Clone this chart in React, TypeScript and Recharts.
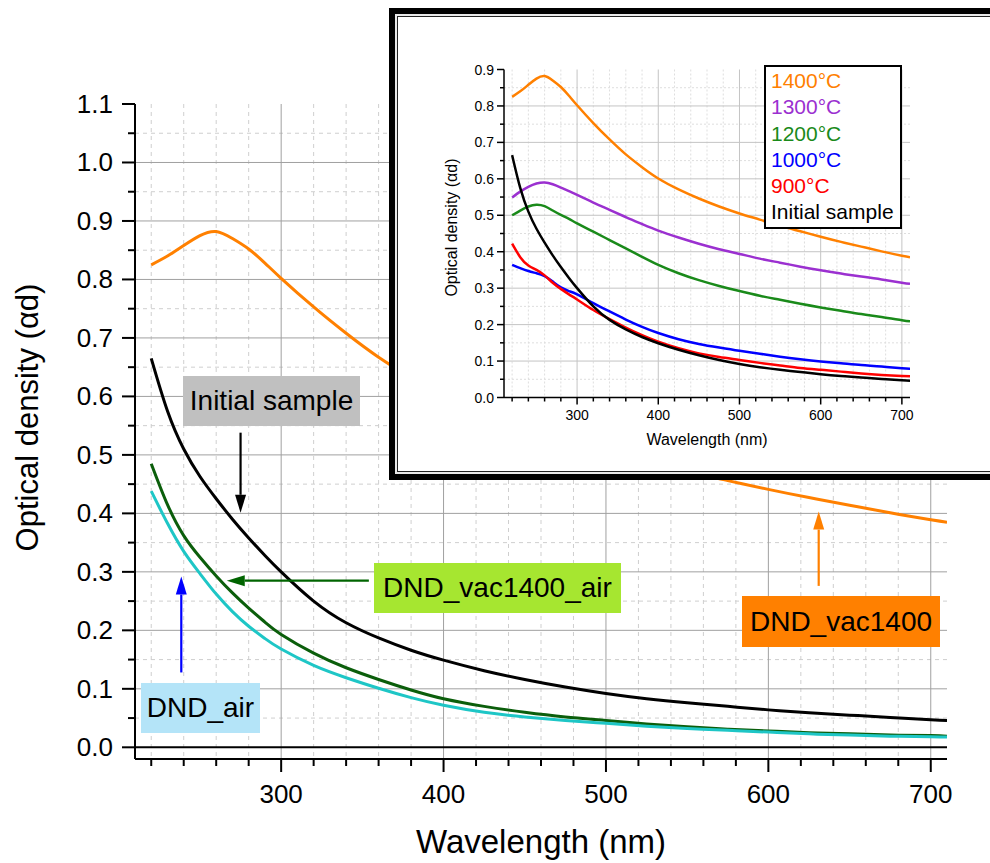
import React from "react";
import {
  LineChart,
  Line,
  XAxis,
  YAxis,
  CartesianGrid,
  ReferenceLine,
  Legend,
} from "recharts";

// Values (nm vs optical density)
const wavelength = [220, 230, 240, 250, 260, 270, 280, 290, 300, 320, 340, 360, 380, 400, 425, 450, 475, 500, 525, 550, 575, 600, 625, 650, 675, 700, 710];

const initialSample = [0.665, 0.575, 0.51, 0.463, 0.425, 0.39, 0.358, 0.328, 0.3, 0.25, 0.213, 0.187, 0.166, 0.149, 0.131, 0.116, 0.103, 0.092, 0.083, 0.076, 0.07, 0.064, 0.059, 0.055, 0.051, 0.047, 0.046];
const dndVac1400 = [0.825, 0.84, 0.858, 0.875, 0.882, 0.87, 0.852, 0.828, 0.802, 0.753, 0.708, 0.667, 0.632, 0.601, 0.571, 0.546, 0.524, 0.505, 0.488, 0.471, 0.456, 0.441, 0.427, 0.414, 0.401, 0.389, 0.385];
const dndVac1400Air = [0.485, 0.415, 0.362, 0.325, 0.293, 0.264, 0.238, 0.214, 0.193, 0.161, 0.136, 0.116, 0.098, 0.083, 0.07, 0.06, 0.052, 0.046, 0.04, 0.035, 0.031, 0.028, 0.025, 0.023, 0.021, 0.02, 0.019];
const dndAir = [0.438, 0.383, 0.335, 0.297, 0.262, 0.232, 0.207, 0.186, 0.168, 0.14, 0.119, 0.101, 0.085, 0.072, 0.06, 0.052, 0.046, 0.041, 0.036, 0.032, 0.029, 0.026, 0.023, 0.021, 0.019, 0.018, 0.0175];
const t1300 = [0.549, 0.565, 0.578, 0.587, 0.59, 0.585, 0.576, 0.566, 0.556, 0.535, 0.515, 0.495, 0.476, 0.458, 0.439, 0.422, 0.407, 0.394, 0.381, 0.37, 0.359, 0.349, 0.34, 0.332, 0.324, 0.315, 0.312];
const t1200 = [0.5, 0.513, 0.524, 0.529, 0.525, 0.513, 0.501, 0.49, 0.478, 0.455, 0.432, 0.409, 0.386, 0.364, 0.341, 0.322, 0.306, 0.292, 0.279, 0.268, 0.257, 0.247, 0.238, 0.229, 0.221, 0.212, 0.209];
const t1000 = [0.364, 0.355, 0.347, 0.341, 0.333, 0.318, 0.302, 0.292, 0.283, 0.259, 0.236, 0.214, 0.194, 0.177, 0.16, 0.147, 0.137, 0.128, 0.12, 0.112, 0.105, 0.099, 0.094, 0.089, 0.085, 0.08, 0.079];
const t900 = [0.422, 0.385, 0.362, 0.35, 0.335, 0.315, 0.298, 0.283, 0.269, 0.24, 0.215, 0.192, 0.171, 0.153, 0.135, 0.121, 0.111, 0.103, 0.095, 0.088, 0.081, 0.076, 0.071, 0.066, 0.062, 0.059, 0.058];

// ticks / grid positions
const xTicks = [220, 240, 260, 280, 300, 320, 340, 360, 380, 400, 420, 440, 460, 480, 500, 520, 540, 560, 580, 600, 620, 640, 660, 680, 700];
const xMajor = [300, 400, 500, 600, 700];
const xMinor = [220, 240, 260, 280, 320, 340, 360, 380, 420, 440, 460, 480, 520, 540, 560, 580, 620, 640, 660, 680];
const yTicksMain = [0, 0.05, 0.1, 0.15, 0.2, 0.25, 0.3, 0.35, 0.4, 0.45, 0.5, 0.55, 0.6, 0.65, 0.7, 0.75, 0.8, 0.85, 0.9, 0.95, 1.0, 1.05, 1.1];
const yMajorMain = [0.1, 0.2, 0.3, 0.4, 0.5, 0.6, 0.7, 0.8, 0.9, 1.0];
const yMinorMain = [0.05, 0.15, 0.25, 0.35, 0.45, 0.55, 0.65, 0.75, 0.85, 0.95, 1.05];
const yTicksInset = [0, 0.05, 0.1, 0.15, 0.2, 0.25, 0.3, 0.35, 0.4, 0.45, 0.5, 0.55, 0.6, 0.65, 0.7, 0.75, 0.8, 0.85, 0.9];
const yMajorInset = [0.1, 0.2, 0.3, 0.4, 0.5, 0.6, 0.7, 0.8];
const yMinorInset = [0.05, 0.15, 0.25, 0.35, 0.45, 0.55, 0.65, 0.75, 0.85];

const legendItems = [
  { name: "1400°C", color: "#ff8000" },
  { name: "1300°C", color: "#9b30d0" },
  { name: "1200°C", color: "#1a8a1a" },
  { name: "1000°C", color: "#0000ff" },
  { name: "900°C", color: "#ff0000" },
  { name: "Initial sample", color: "#000000" },
];

// arrows in data units: [from, to]
const arrowInitial = [{ x: 275, y: 0.538 }, { x: 275, y: 0.401 }];
const arrowVacAir = [{ x: 354, y: 0.285 }, { x: 266.5, y: 0.285 }];
const arrowAir = [{ x: 238.5, y: 0.128 }, { x: 238.5, y: 0.292 }];
const arrowVac = [{ x: 631, y: 0.276 }, { x: 631, y: 0.403 }];

const rows = wavelength.map((wl, i) => ({
  wl,
  initial: initialSample[i],
  vac1400: dndVac1400[i],
  vacAir: dndVac1400Air[i],
  air: dndAir[i],
  c1300: t1300[i],
  c1200: t1200[i],
  c1000: t1000[i],
  c900: t900[i],
}));

const FONT = "'Liberation Sans', Arial, sans-serif";

const isTenth = (v: number) => Math.abs(v * 10 - Math.round(v * 10)) < 1e-6;

// scale helper for grid generators (works whether scale is a fn or wrapped)
const scaleOf = (axis: any, v: number) => {
  const s = axis?.scale;
  if (typeof s === "function") return s(v);
  if (s && typeof s.map === "function") return s.map(v);
  return 0;
};

function makeYTick(major: number, minor: number, gap: number, size: number) {
  return (p: any) => {
    const v = p.payload.value;
    const big = isTenth(v);
    return (
      <g>
        <line x1={p.x - (big ? major : minor)} x2={p.x} y1={p.y} y2={p.y} stroke="#000" strokeWidth={size > 20 ? 2 : 1.5} />
        {big && (
          <text x={p.x - gap} y={p.y} textAnchor="end" dominantBaseline="central" fontSize={size} fontFamily={FONT} fill="#000">
            {v.toFixed(1)}
          </text>
        )}
      </g>
    );
  };
}

function makeXTick(major: number, minor: number, gap: number, size: number) {
  return (p: any) => {
    const v = p.payload.value;
    const big = v % 100 === 0;
    return (
      <g>
        <line x1={p.x} x2={p.x} y1={p.y} y2={p.y + (big ? major : minor)} stroke="#000" strokeWidth={size > 20 ? 2 : 1.5} />
        {big && (
          <text x={p.x} y={p.y + gap} textAnchor="middle" fontSize={size} fontFamily={FONT} fill="#000">
            {v}
          </text>
        )}
      </g>
    );
  };
}

function YTitle(props: any) {
  const { viewBox, text, dx, dy, size } = props;
  const cx = viewBox.x + dx;
  const cy = viewBox.y + viewBox.height / 2 + dy;
  return (
    <text x={cx} y={cy} transform={`rotate(-90 ${cx} ${cy})`} textAnchor="middle" dominantBaseline="central" fontSize={size} fontFamily={FONT} fill="#000">
      {text}
    </text>
  );
}

function XTitle(props: any) {
  const { viewBox, text, dy, size } = props;
  return (
    <text x={viewBox.x + viewBox.width / 2} y={viewBox.y + dy} textAnchor="middle" fontSize={size} fontFamily={FONT} fill="#000">
      {text}
    </text>
  );
}

const arrowShape = (color: string) => (p: any) => {
  const { x1, y1, x2, y2 } = p;
  const dx = x2 - x1;
  const dy = y2 - y1;
  const len = Math.hypot(dx, dy) || 1;
  const ux = dx / len;
  const uy = dy / len;
  const hl = 18;
  const hw = 5.5;
  const bx = x2 - ux * hl;
  const by = y2 - uy * hl;
  return (
    <g>
      <line x1={x1} y1={y1} x2={bx} y2={by} stroke={color} strokeWidth={2.2} />
      <polygon points={`${x2},${y2} ${bx - uy * hw},${by + ux * hw} ${bx + uy * hw},${by - ux * hw}`} fill={color} />
    </g>
  );
};

function InsetLegend() {
  return (
    <div style={{ border: "2px solid #000", background: "#fff", padding: "1px 3px 1px 5px", fontFamily: FONT, fontSize: 21, lineHeight: "26.3px", boxSizing: "border-box" }}>
      {legendItems.map((it) => (
        <div key={it.name} style={{ color: it.color, whiteSpace: "nowrap" }}>{it.name}</div>
      ))}
    </div>
  );
}

const boxStyle = (left: number, top: number, width: number, height: number, bg: string): React.CSSProperties => ({
  position: "absolute",
  left,
  top,
  width,
  height,
  background: bg,
  display: "flex",
  alignItems: "center",
  justifyContent: "center",
  fontFamily: FONT,
  fontSize: 28,
  color: "#000",
  whiteSpace: "nowrap",
});

export default function App() {
  return (
    <div style={{ position: "absolute", left: 0, top: 0, width: 990, height: 863, overflow: "hidden", background: "#fff" }}>
      {/* main chart */}
      <div style={{ position: "absolute", left: 0, top: 0 }}>
        <LineChart width={990} height={863} data={rows} margin={{ top: 104, right: 43, bottom: 0, left: 0 }}>
          <CartesianGrid
            stroke="#cfcfcf"
            strokeDasharray="4 4"
            verticalCoordinatesGenerator={({ xAxis }: any) => xMinor.map((v) => scaleOf(xAxis, v))}
            horizontalCoordinatesGenerator={({ yAxis }: any) => yMinorMain.map((v) => scaleOf(yAxis, v))}
          />
          <CartesianGrid
            stroke="#a0a0a0"
            verticalCoordinatesGenerator={({ xAxis }: any) => xMajor.map((v) => scaleOf(xAxis, v))}
            horizontalCoordinatesGenerator={({ yAxis }: any) => yMajorMain.map((v) => scaleOf(yAxis, v))}
          />
          <XAxis
            dataKey="wl"
            type="number"
            domain={[210, 710]}
            ticks={xTicks}
            allowDataOverflow
            height={104}
            tickSize={0}
            tickMargin={0}
            tickLine={false}
            axisLine={{ stroke: "#000", strokeWidth: 2 }}
            tick={makeXTick(13, 7, 44, 26)}
            interval={0}
            label={<XTitle text="Wavelength (nm)" dy={94} size={33} />}
          />
          <YAxis
            type="number"
            domain={[-0.02, 1.1]}
            ticks={yTicksMain}
            allowDataOverflow
            width={135}
            tickSize={0}
            tickMargin={0}
            tickLine={false}
            axisLine={{ stroke: "#000", strokeWidth: 2 }}
            tick={makeYTick(13, 7, 22, 26)}
            interval={0}
            label={<YTitle text="Optical density (αd)" dx={27} dy={-14} size={31} />}
          />
          <ReferenceLine y={0} stroke="#000" strokeWidth={2} />
          <Line dataKey="vac1400" type="natural" stroke="#ff8000" strokeWidth={3} dot={false} isAnimationActive={false} />
          <Line dataKey="initial" type="natural" stroke="#000000" strokeWidth={3} dot={false} isAnimationActive={false} />
          <Line dataKey="vacAir" type="natural" stroke="#0b5e0b" strokeWidth={3} dot={false} isAnimationActive={false} />
          <Line dataKey="air" type="natural" stroke="#1ec6c6" strokeWidth={3} dot={false} isAnimationActive={false} />
          <ReferenceLine segment={arrowInitial} shape={arrowShape("#000000")} />
          <ReferenceLine segment={arrowVacAir} shape={arrowShape("#006400")} />
          <ReferenceLine segment={arrowAir} shape={arrowShape("#0000ff")} />
          <ReferenceLine segment={arrowVac} shape={arrowShape("#ff8000")} />
        </LineChart>
      </div>

      {/* annotation boxes */}
      <div style={boxStyle(183, 376, 177, 50, "#c0c0c0")}>Initial sample</div>
      <div style={boxStyle(374, 563, 247, 50, "#a6e630")}>DND_vac1400_air</div>
      <div style={boxStyle(141, 683, 119, 50, "#b4e4f8")}>DND_air</div>
      <div style={boxStyle(742, 596, 198, 51, "#ff8000")}>DND_vac1400</div>

      {/* inset frame */}
      <div style={{ position: "absolute", left: 389, top: 8, width: 640, height: 472, border: "6px solid #000", boxSizing: "border-box", background: "#e8e8e8", padding: 2 }}>
        <div style={{ width: "100%", height: "100%", border: "1.5px solid #222", boxSizing: "border-box", background: "#fff" }} />
      </div>

      {/* inset chart */}
      <div style={{ position: "absolute", left: 395, top: 14 }}>
        <LineChart width={590} height={460} data={rows} margin={{ top: 55.5, right: 75, bottom: 0, left: 0 }}>
          <CartesianGrid
            stroke="#dedede"
            strokeDasharray="2 2"
            verticalCoordinatesGenerator={({ xAxis }: any) => xMinor.map((v) => scaleOf(xAxis, v))}
            horizontalCoordinatesGenerator={({ yAxis }: any) => yMinorInset.map((v) => scaleOf(yAxis, v))}
          />
          <CartesianGrid
            stroke="#c4c4c4"
            verticalCoordinatesGenerator={({ xAxis }: any) => xMajor.map((v) => scaleOf(xAxis, v))}
            horizontalCoordinatesGenerator={({ yAxis }: any) => yMajorInset.map((v) => scaleOf(yAxis, v))}
          />
          <XAxis
            dataKey="wl"
            type="number"
            domain={[210, 710]}
            ticks={xTicks}
            allowDataOverflow
            height={76.5}
            tickSize={0}
            tickMargin={0}
            tickLine={false}
            axisLine={{ stroke: "#000", strokeWidth: 1.5 }}
            tick={makeXTick(7, 4, 22, 14)}
            interval={0}
            label={<XTitle text="Wavelength (nm)" dy={47} size={16} />}
          />
          <YAxis
            type="number"
            domain={[0, 0.9]}
            ticks={yTicksInset}
            allowDataOverflow
            width={109}
            tickSize={0}
            tickMargin={0}
            tickLine={false}
            axisLine={{ stroke: "#000", strokeWidth: 1.5 }}
            tick={makeYTick(7, 4, 10, 14)}
            interval={0}
            label={<YTitle text="Optical density (αd)" dx={56} dy={-6} size={16} />}
          />
          <Legend
            layout="vertical"
            align="center"
            verticalAlign="middle"
            content={<InsetLegend />}
            wrapperStyle={{ left: 369, top: 51, width: 138, height: 165 }}
          />
          <Line dataKey="vac1400" name="1400°C" type="natural" stroke="#ff8000" strokeWidth={2.5} dot={false} isAnimationActive={false} />
          <Line dataKey="c1300" name="1300°C" type="natural" stroke="#9b30d0" strokeWidth={2.5} dot={false} isAnimationActive={false} />
          <Line dataKey="c1200" name="1200°C" type="natural" stroke="#1a8a1a" strokeWidth={2.5} dot={false} isAnimationActive={false} />
          <Line dataKey="c1000" name="1000°C" type="natural" stroke="#0000ff" strokeWidth={2.5} dot={false} isAnimationActive={false} />
          <Line dataKey="c900" name="900°C" type="natural" stroke="#ff0000" strokeWidth={2.5} dot={false} isAnimationActive={false} />
          <Line dataKey="initial" name="Initial sample" type="natural" stroke="#000000" strokeWidth={2.5} dot={false} isAnimationActive={false} />
        </LineChart>
      </div>
    </div>
  );
}
